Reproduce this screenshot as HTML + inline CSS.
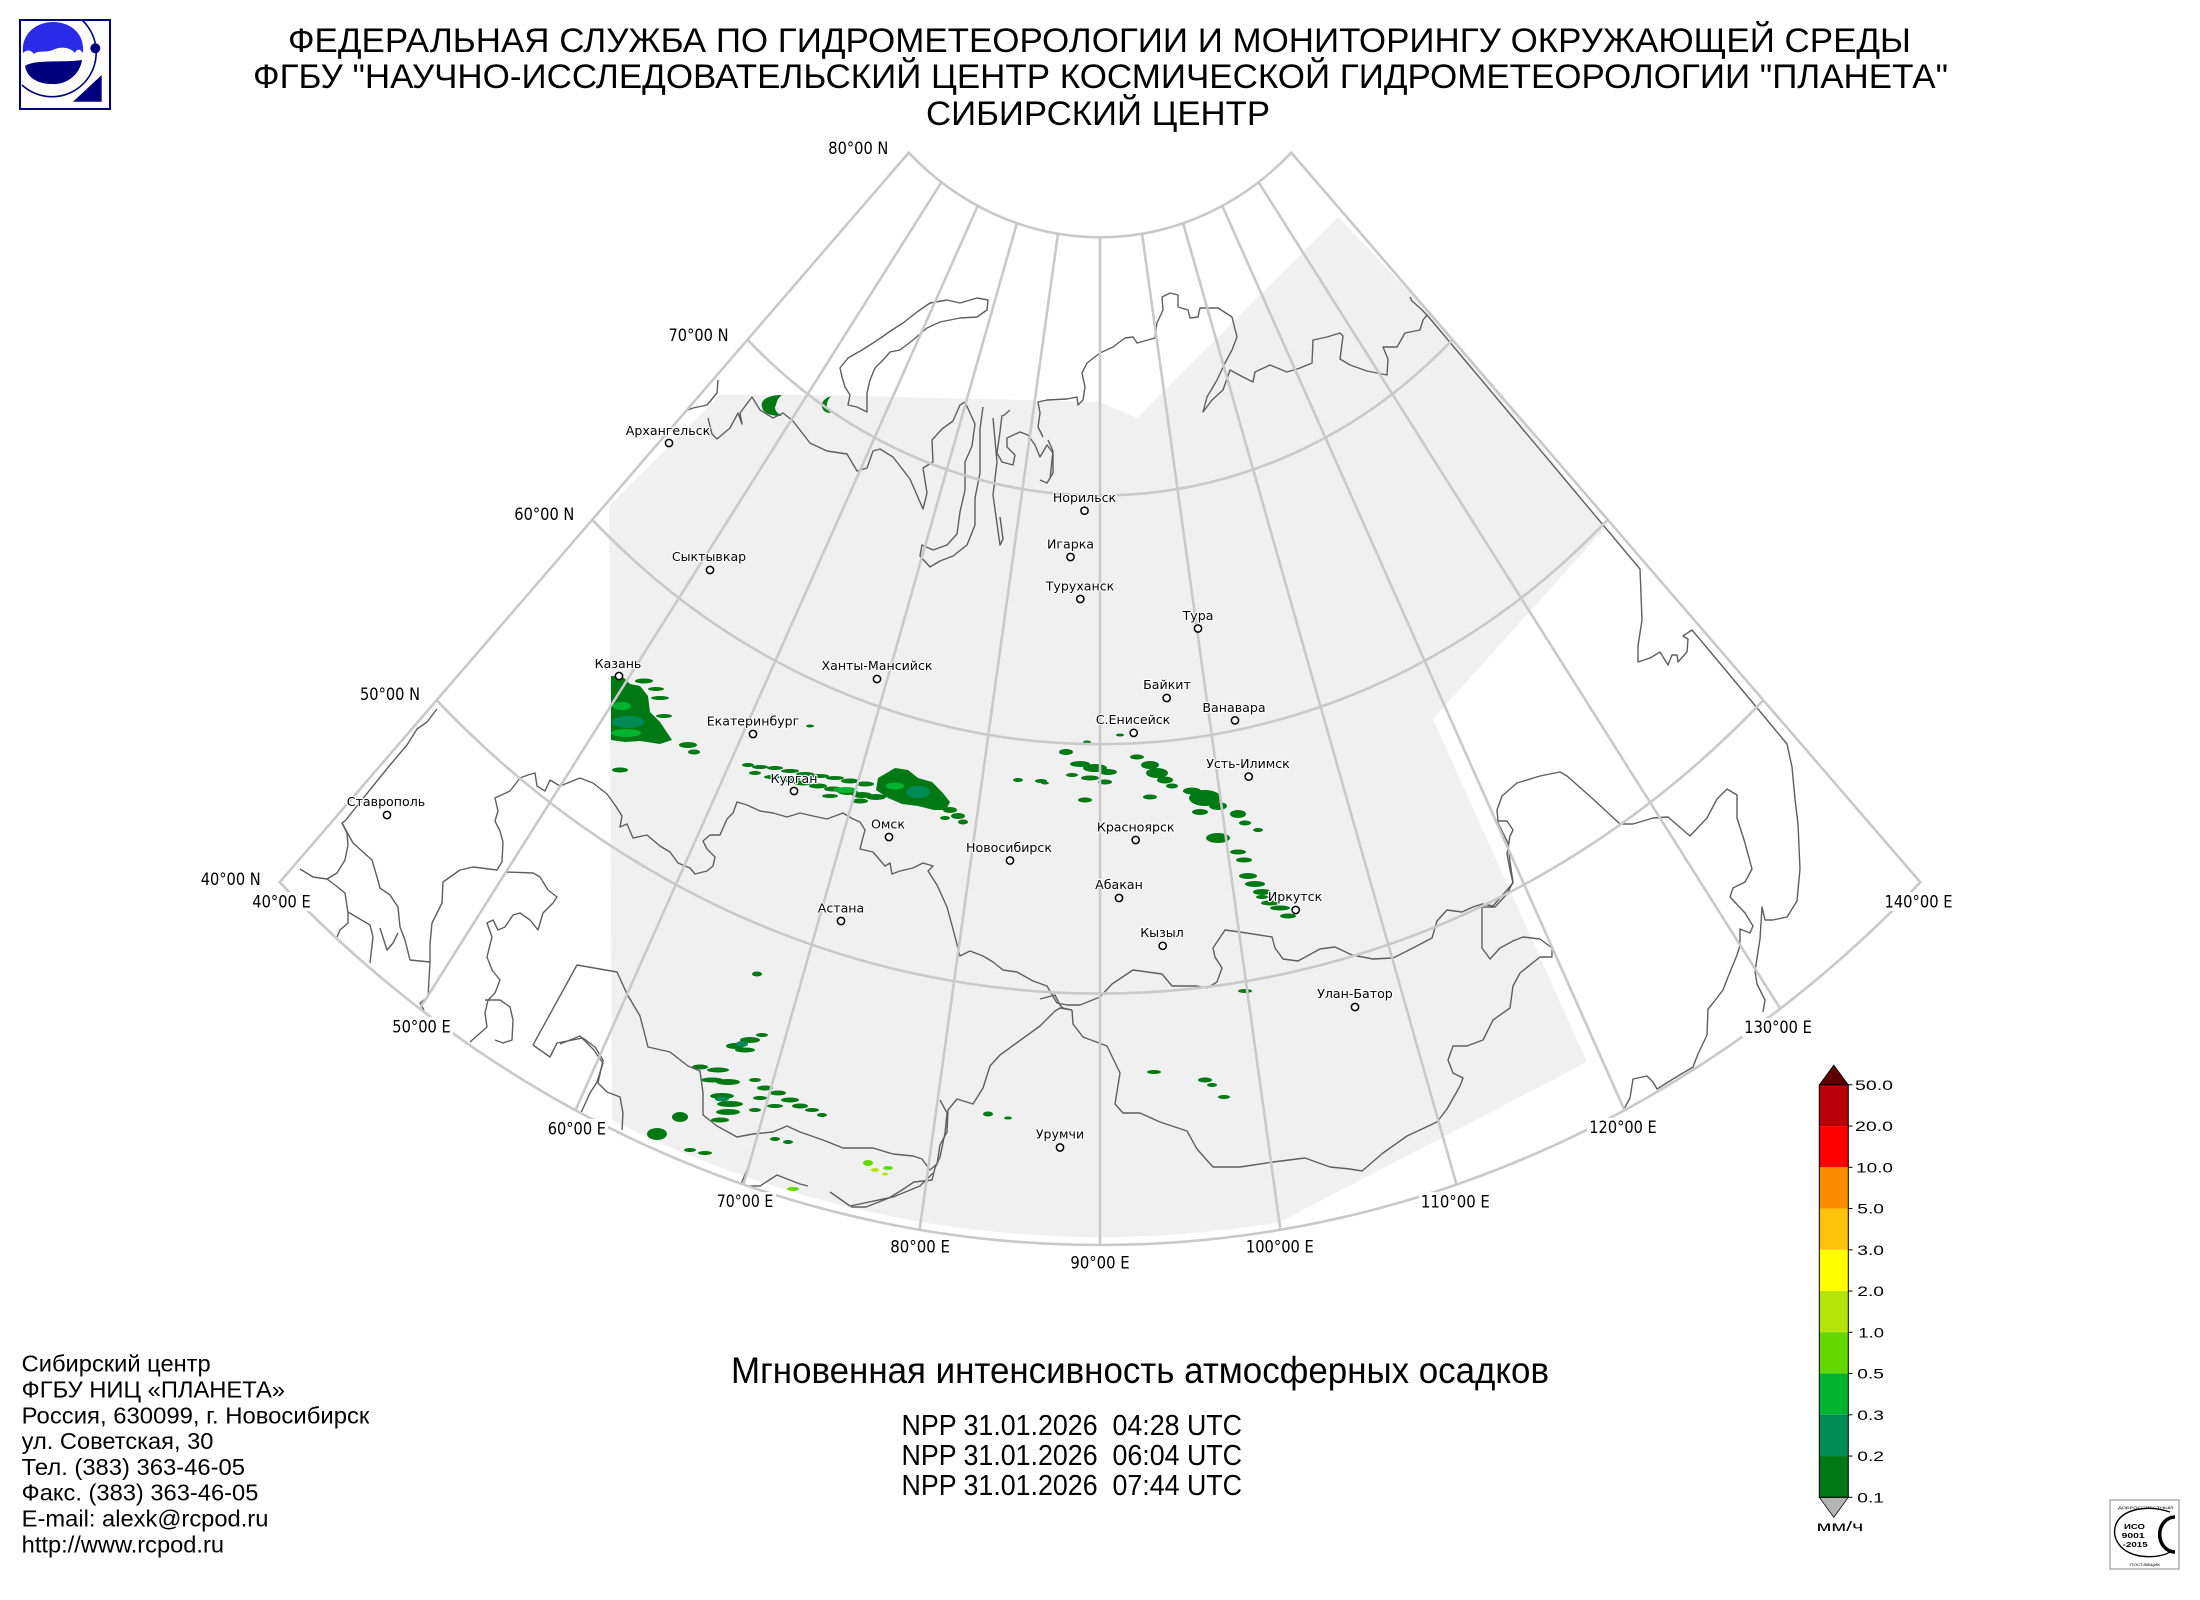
<!DOCTYPE html>
<html><head><meta charset="utf-8"><title>Мгновенная интенсивность атмосферных осадков</title>
<style>
html,body{margin:0;padding:0;background:#fff;}
svg{display:block;}
.t{font-family:"Liberation Sans Narrow","Liberation Sans",sans-serif;fill:#000;}
.a{font-family:"Liberation Sans",sans-serif;fill:#000;font-size:23px;}
.g{font-family:"DejaVu Sans","Liberation Sans",sans-serif;fill:#000;font-size:16.5px;}
.c{font-family:"DejaVu Sans","Liberation Sans",sans-serif;fill:#000;font-size:12.6px;text-anchor:middle;paint-order:stroke;stroke:#fff;stroke-width:2.2px;stroke-linejoin:round;}
.cb{font-family:"Liberation Sans",sans-serif;fill:#000;font-size:14px;}
.grid{fill:none;stroke:#c9c9c9;stroke-width:2.6;}
.coast{fill:none;stroke:#5e5e5e;stroke-width:1.4;stroke-linejoin:round;}
.m{fill:#fff;stroke:#000;stroke-width:1.5;}
</style></head>
<body>
<svg width="2200" height="1600" viewBox="0 0 2200 1600" xmlns="http://www.w3.org/2000/svg">
<defs>
<clipPath id="sector"><path d="M908.75,152.7 A277.2 306.3 0 0 0 1291.25,152.7 L1920.3,882.2 A1189 1314 0 0 1 279.7,882.2 Z"/></clipPath>
</defs>
<rect x="0" y="0" width="2200" height="1600" fill="#fff"/>

<!-- Logo -->
<g>
<rect x="20" y="20" width="90" height="89" fill="#fff" stroke="#00007f" stroke-width="2"/>
<path d="M23,53 C21,35 35,22 53,22 C72,22 85,35 83,53 C80,49 77,48 75,53 C70,47 60,46 53,50 C45,53 38,50 34,54 C31,50 27,49 23,53 Z" fill="#2a2ae8"/>
<path d="M25,66 C35,59 60,63 82,60 C80,75 66,85 52,84 C38,84 27,78 25,66 Z" fill="#00007f"/>
<path d="M82,20 A44 44 0 0 1 22,85" fill="none" stroke="#00007f" stroke-width="1.6"/>
<circle cx="95.3" cy="48.3" r="5" fill="#00007f"/>
<polygon points="73,101.7 101.7,75 101.7,101.7" fill="#00007f"/>
</g>

<!-- Titles -->
<text class="t" x="288" y="52" font-size="34" textLength="1623" lengthAdjust="spacingAndGlyphs">ФЕДЕРАЛЬНАЯ СЛУЖБА ПО ГИДРОМЕТЕОРОЛОГИИ И МОНИТОРИНГУ ОКРУЖАЮЩЕЙ СРЕДЫ</text>
<text class="t" x="253" y="88" font-size="34" textLength="1695" lengthAdjust="spacingAndGlyphs">ФГБУ "НАУЧНО-ИССЛЕДОВАТЕЛЬСКИЙ ЦЕНТР КОСМИЧЕСКОЙ ГИДРОМЕТЕОРОЛОГИИ "ПЛАНЕТА"</text>
<text class="t" x="926" y="125" font-size="34" textLength="344" lengthAdjust="spacingAndGlyphs">СИБИРСКИЙ ЦЕНТР</text>

<!-- Map: swath -->
<g clip-path="url(#sector)">
<path d="M609,506 L720,395 L820,395 L1100,402 L1137,418 L1338,217 L1470,355 L1605,528 L1433,719 L1587,1062 L1280,1222 A1181 1306 0 0 1 612,1120 Z" fill="#f0f0f0"/>

<!-- precipitation -->
<g fill="#007814">
<!-- Barents -->
<path d="M782,395 C765,395 760,402 762,407 C763,413 770,416 782,416 C775,412 774,408 776,405 C777,400 779,397 782,395 Z"/>
<path d="M831,396 C822,399 821,405 822,407 C823,411 826,413 831,413 C826,409 825,403 831,396 Z"/>
<!-- Kazan -->
<path d="M611,676 L622,676 L630,684 L640,686 L648,696 L650,712 L660,722 L672,740 L660,744 L640,741 L625,742 L611,740 Z"/>
<ellipse cx="644" cy="681" rx="9" ry="2.5"/><ellipse cx="656" cy="689" rx="8" ry="2"/>
<ellipse cx="660" cy="698" rx="9" ry="2"/><ellipse cx="664" cy="716" rx="8" ry="2"/>
<ellipse cx="688" cy="745" rx="9" ry="3"/><ellipse cx="694" cy="752" rx="6" ry="2.5"/>
<ellipse cx="620" cy="770" rx="8" ry="2.5"/><ellipse cx="810" cy="726" rx="4" ry="1.5"/>
<!-- Kurgan band -->
<ellipse cx="748" cy="765" rx="6" ry="2"/><ellipse cx="760" cy="767" rx="8" ry="2"/><ellipse cx="775" cy="768" rx="8" ry="2"/>
<ellipse cx="790" cy="771" rx="9" ry="2"/><ellipse cx="805" cy="774" rx="9" ry="2"/><ellipse cx="820" cy="776" rx="9" ry="2"/>
<ellipse cx="835" cy="778" rx="9" ry="2"/><ellipse cx="850" cy="781" rx="9" ry="2.5"/><ellipse cx="865" cy="784" rx="9" ry="2.5"/>
<ellipse cx="755" cy="773" rx="6" ry="2"/><ellipse cx="772" cy="777" rx="8" ry="2"/><ellipse cx="788" cy="780" rx="8" ry="2"/>
<ellipse cx="803" cy="783" rx="9" ry="2.5"/><ellipse cx="818" cy="786" rx="9" ry="2.5"/><ellipse cx="833" cy="789" rx="9" ry="2.5"/>
<ellipse cx="848" cy="792" rx="10" ry="3"/><ellipse cx="862" cy="795" rx="10" ry="3"/><ellipse cx="876" cy="797" rx="10" ry="3"/>
<ellipse cx="830" cy="796" rx="8" ry="2"/><ellipse cx="860" cy="801" rx="8" ry="2.5"/>
<path d="M878,778 L895,768 L908,770 L918,778 L932,782 L942,792 L950,802 L946,810 L934,810 L918,806 L902,804 L888,798 L876,790 Z"/>
<ellipse cx="950" cy="810" rx="7" ry="3"/><ellipse cx="958" cy="816" rx="7" ry="3"/><ellipse cx="963" cy="822" rx="5" ry="2.5"/><ellipse cx="945" cy="818" rx="5" ry="2"/>
<!-- Siberia -->
<ellipse cx="1018" cy="780" rx="5" ry="2"/><ellipse cx="1041" cy="781" rx="6" ry="2"/><ellipse cx="1045" cy="783" rx="4" ry="1.5"/>
<ellipse cx="1066" cy="752" rx="7" ry="3"/><ellipse cx="1087" cy="742" rx="4" ry="1.5"/><ellipse cx="1120" cy="735" rx="4" ry="1.5"/>
<ellipse cx="1080" cy="764" rx="10" ry="3"/><ellipse cx="1095" cy="768" rx="12" ry="4"/><ellipse cx="1108" cy="772" rx="9" ry="3"/>
<ellipse cx="1090" cy="778" rx="9" ry="2.5"/><ellipse cx="1105" cy="782" rx="7" ry="2.5"/><ellipse cx="1072" cy="775" rx="6" ry="2"/>
<ellipse cx="1085" cy="800" rx="7" ry="2.5"/>
<ellipse cx="1137" cy="757" rx="7" ry="2.5"/><ellipse cx="1150" cy="765" rx="9" ry="4"/><ellipse cx="1157" cy="773" rx="11" ry="5"/>
<ellipse cx="1165" cy="780" rx="8" ry="3.5"/><ellipse cx="1172" cy="786" rx="6" ry="2.5"/><ellipse cx="1150" cy="797" rx="7" ry="2.5"/>
<ellipse cx="1205" cy="798" rx="16" ry="8"/><ellipse cx="1192" cy="791" rx="9" ry="3.5"/><ellipse cx="1218" cy="806" rx="9" ry="4"/><ellipse cx="1200" cy="812" rx="8" ry="3"/>
<ellipse cx="1218" cy="838" rx="12" ry="5"/><ellipse cx="1238" cy="814" rx="8" ry="4"/><ellipse cx="1245" cy="823" rx="6" ry="2.5"/><ellipse cx="1258" cy="830" rx="5" ry="2"/>
<ellipse cx="1238" cy="852" rx="8" ry="2.5"/><ellipse cx="1244" cy="860" rx="8" ry="2.5"/>
<ellipse cx="1248" cy="876" rx="9" ry="3"/><ellipse cx="1255" cy="884" rx="10" ry="3"/><ellipse cx="1262" cy="892" rx="9" ry="3"/>
<ellipse cx="1270" cy="903" rx="9" ry="2.5"/><ellipse cx="1280" cy="908" rx="10" ry="2.5"/><ellipse cx="1288" cy="916" rx="8" ry="2.5"/><ellipse cx="1262" cy="897" rx="6" ry="2"/>
<ellipse cx="1245" cy="991" rx="7" ry="2"/><ellipse cx="1154" cy="1072" rx="7" ry="2"/>
<ellipse cx="1205" cy="1080" rx="7" ry="2.5"/><ellipse cx="1212" cy="1085" rx="5" ry="2"/><ellipse cx="1224" cy="1097" rx="6" ry="2"/>
<!-- SW cluster -->
<ellipse cx="735" cy="1046" rx="9" ry="3"/><ellipse cx="750" cy="1040" rx="10" ry="3"/><ellipse cx="745" cy="1050" rx="10" ry="2.5"/><ellipse cx="762" cy="1035" rx="6" ry="2"/><ellipse cx="757" cy="974" rx="5" ry="2.5"/>
<ellipse cx="700" cy="1067" rx="8" ry="2.5"/><ellipse cx="718" cy="1070" rx="11" ry="2.5"/><ellipse cx="712" cy="1080" rx="11" ry="2.5"/>
<ellipse cx="728" cy="1082" rx="12" ry="3"/>
<ellipse cx="722" cy="1096" rx="12" ry="3"/><ellipse cx="730" cy="1104" rx="13" ry="3"/><ellipse cx="728" cy="1112" rx="12" ry="3"/><ellipse cx="720" cy="1120" rx="9" ry="2.5"/>
<ellipse cx="755" cy="1080" rx="6" ry="2"/><ellipse cx="765" cy="1088" rx="8" ry="2.5"/><ellipse cx="778" cy="1093" rx="8" ry="2.5"/>
<ellipse cx="790" cy="1100" rx="9" ry="2.5"/><ellipse cx="800" cy="1106" rx="8" ry="2.5"/><ellipse cx="812" cy="1110" rx="7" ry="2"/>
<ellipse cx="822" cy="1115" rx="5" ry="2"/><ellipse cx="760" cy="1098" rx="7" ry="2"/><ellipse cx="775" cy="1106" rx="8" ry="2"/><ellipse cx="755" cy="1110" rx="6" ry="2"/>
<ellipse cx="680" cy="1117" rx="8" ry="5"/><ellipse cx="657" cy="1134" rx="10" ry="6"/>
<ellipse cx="690" cy="1150" rx="6" ry="2"/><ellipse cx="705" cy="1153" rx="7" ry="2"/>
<ellipse cx="775" cy="1139" rx="5" ry="2"/><ellipse cx="788" cy="1142" rx="5" ry="2"/>
<ellipse cx="988" cy="1114" rx="5" ry="2.5"/><ellipse cx="1008" cy="1118" rx="4" ry="1.5"/>
</g>
<g fill="#008a55">
<ellipse cx="628" cy="722" rx="16" ry="6"/><ellipse cx="918" cy="792" rx="12" ry="6"/><ellipse cx="790" cy="779" rx="10" ry="3"/>
<ellipse cx="742" cy="1044" rx="6" ry="3"/><ellipse cx="722" cy="1099" rx="7" ry="2.5"/>
</g>
<g fill="#00b432">
<ellipse cx="626" cy="733" rx="15" ry="4"/><ellipse cx="622" cy="706" rx="9" ry="4"/><ellipse cx="895" cy="786" rx="9" ry="3.5"/><ellipse cx="845" cy="790" rx="12" ry="3"/>
</g>
<g fill="#64d600">
<ellipse cx="868" cy="1163" rx="5" ry="3"/><ellipse cx="888" cy="1168" rx="5" ry="2"/><ellipse cx="793" cy="1189" rx="6" ry="2"/>
</g>
<g fill="#b4e40a">
<ellipse cx="875" cy="1170" rx="4" ry="2"/><ellipse cx="885" cy="1174" rx="3" ry="1.5"/>
</g>

<!-- coastlines and borders -->
<g class="coast">
<path d="M840,368 L848,358 L862,350 L873,343 L882,337 L892,330 L903,323 L917,312 L930,303 L947,300 L960,303 L977,298 L988,300 L987,310 L977,317 L960,318 L940,322 L927,328 L913,340 L900,350 L890,352 L883,360 L875,368 L870,380 L867,393 L867,412 L857,407 L848,405 L850,395 L845,387 L842,377 Z"/>
<polyline points="1040,480 1047,483 1053,473 1053,453 1047,445 1040,457 1035,445 1028,435 1020,432 1007,438 1007,447 1015,455 1013,465 1002,462 997,453 1000,432 1002,415"/>
<polyline points="1038,427 1040,413 1038,402 1047,400 1067,399 1077,397 1078,405 1083,400 1085,387 1082,373 1087,363 1100,353 1113,347 1125,338 1133,337 1137,343 1155,338 1157,323 1163,310 1162,297 1170,293 1178,295 1178,307 1188,310 1190,318 1198,317 1200,308 1218,308 1232,317 1237,337 1232,350 1225,363 1217,380 1207,397 1203,412 1212,400 1223,390 1230,370 1243,377 1253,382 1255,372 1270,365 1287,372 1300,368 1312,363 1313,340 1327,337 1340,333 1343,336 1340,359 1350,365 1367,371 1387,375 1388,359 1383,347 1397,347 1405,333 1420,330 1423,320 1427,315 1640,569 1642,620 1638,646 1638,662 1650,658 1660,652 1668,665 1672,655 1677,655 1678,662 1687,652 1688,639 1683,636 1692,630 1713,655 1753,703 1787,744 1792,767 1795,799 1798,824 1800,869 1797,901 1787,917 1773,920 1765,920 1762,907 1760,939 1755,971 1757,984 1765,1000 1763,1012"/>
<polyline points="1427,315 1420,308 1412,301 1410,297"/>
<polyline points="1043,437 1038,427"/>
<polyline points="1048,440 1053,451 1050,479"/>
<polyline points="718,380 717,393 707,405 693,408 680,413"/>
<polyline points="708,418 712,434 717,439 730,428 738,413 742,424 740,413 752,397 760,410 773,418 783,413 793,421 810,443 827,451 847,454 857,471 867,468 873,451 880,449 893,457 910,479 923,509 927,493 923,468 933,462 932,440 942,429 953,421 960,405 965,402 975,424 972,446 965,462 965,490 960,512 957,534 947,545 933,550 922,545 920,556 930,567 940,561 953,556 967,545 975,525 975,498 980,473 980,429 983,407"/>
<polyline points="993,418 997,462 993,495 1000,545 1003,539 1000,517"/>
<polyline points="1003,416 1010,410"/>
<!-- Russia-Kazakhstan-Mongolia-China -->
<polyline points="520,778 528,775 535,773 537,786 545,791 550,780 560,786 580,778 593,783 607,794 615,805 622,816 620,827 627,824 633,838 647,835 660,846 670,852 678,863 690,868 695,874 707,871 713,866 715,857 707,849 703,841 710,835 720,835 727,819 733,813 737,802 747,805 760,811 773,813 787,817 800,813 813,816 827,819 843,813 853,819 860,822 865,830 862,841 860,849 873,852 885,866 890,863 892,874 900,871 913,868 923,863 933,866 928,871 937,885 947,907 953,929 960,956 970,951 983,956 993,962 1003,970 1017,972 1033,981 1047,986 1057,1003 1067,1005 1080,1005 1100,997 1112,984 1133,970 1162,974 1172,986 1197,986 1207,988 1217,982 1222,968 1215,957 1213,948 1225,930 1240,932 1272,937 1275,948 1283,959 1298,961 1320,949 1335,947 1352,955 1373,959 1393,958 1413,948 1432,938 1437,921 1447,910 1462,912 1473,907 1482,904 1493,906 1507,890 1513,883 1510,870 1507,854 1510,836 1513,830 1507,821 1498,821 1497,810 1502,796 1517,783 1540,776 1560,772 1567,776 1593,799 1620,824 1633,824 1653,818 1668,817 1690,836 1707,818 1717,799 1727,789 1737,795 1737,818 1745,843 1752,869 1745,882 1733,888 1730,897 1745,913 1753,926 1750,933 1740,929 1740,945 1737,955 1728,977 1723,990 1713,1003 1708,1009 1707,1035 1698,1054 1693,1067 1673,1079 1657,1089 1653,1082 1647,1076 1633,1079 1630,1098 1623,1111"/>
<polyline points="1497,821 1508,843 1510,862 1513,882 1507,894 1495,907 1482,907"/>
<polyline points="1482,904 1482,948 1490,959 1500,948 1513,941 1523,937 1540,939 1552,948 1552,957 1540,957 1520,973 1513,986 1510,1008 1493,1020 1483,1040 1467,1046 1453,1046 1448,1060 1453,1073 1463,1078 1460,1086 1447,1109 1437,1122 1407,1136 1383,1153 1362,1171 1350,1169 1330,1167 1305,1158 1273,1162 1240,1167 1213,1167 1197,1149 1187,1131 1160,1122 1140,1113 1123,1113 1115,1104 1120,1073 1107,1046 1083,1037 1073,1024 1072,1010"/>
<polyline points="1040,999 1055,995 1060,1005 1063,1008 1072,1010"/>
<polyline points="1072,1010 1060,1008 1055,1011 1040,1026 1000,1055 990,1066 983,1088 973,1104 957,1099 948,1110 947,1132 940,1145 937,1164 930,1170 922,1159 913,1156 893,1154 873,1148 843,1148 823,1140 800,1132 787,1126 773,1132 753,1134 737,1137 717,1126 703,1115 703,1093 700,1071 688,1066 670,1052 648,1047 640,1016 627,994 617,972 577,965 533,1045"/>
<polyline points="940,1100 947,1113 945,1133 940,1157 935,1168 932,1180 914,1182 902,1190 889,1198 866,1207 851,1207"/>
<polyline points="560,1044 580,1036 593,1049 603,1063 597,1082 590,1093 580,1115"/>
<polyline points="747,1170 740,1186 760,1186 777,1175 800,1184 808,1186"/>
<polyline points="830,1192 850,1206 893,1197 920,1186 933,1173"/>
<polyline points="533,1045 550,1057 557,1043 583,1038 595,1047 603,1060 598,1083 607,1092 620,1097 623,1113 622,1130"/>
<!-- Caspian / Caucasus -->
<polyline points="520,778 510,791 495,798 498,811 495,821 500,831 503,842 502,862 497,870 473,867 460,870 443,882 442,903 437,913 432,923 430,944 430,962 428,997 420,1003 424,1010"/>
<polyline points="505,872 533,873 540,877 548,890 557,897 553,903 543,913 538,930 530,920 520,913 513,915 505,927 498,930 493,920 487,923 492,937 487,957 492,970 500,980 495,993 488,1000 485,1013 487,1027 470,1042"/>
<polyline points="485,1000 500,1000 510,1007 513,1020 512,1040 503,1043 495,1040"/>
<polyline points="300,869 313,877 327,879 337,873 345,860 348,845 347,833 342,823 345,821"/>
<polyline points="437,709 427,722 417,729 407,745 390,765 373,786 357,806 345,821"/>
<polyline points="342,823 353,843 363,852 372,860 377,877 380,888 390,895 398,907 400,927 405,940 410,960 430,962"/>
<polyline points="327,879 335,885 345,893 348,913 348,923 340,930 337,937"/>
<polyline points="348,912 370,925 373,937 370,963"/>
<polyline points="380,928 387,950 393,943 398,933"/>
</g>
</g>

<!-- grid -->
<g class="grid">
<path d="M908.75,152.7 A277.2 306.3 0 0 0 1291.25,152.7 L1920.3,882.2 A1189 1314 0 0 1 279.7,882.2 Z"/>
<path d="M747.5,339.6 A510.9 564.5 0 0 0 1452.5,339.6"/>
<path d="M592.3,519.7 A735.9 813.2 0 0 0 1607.7,519.7"/>
<path d="M436.6,700.2 A961.6 1062.6 0 0 0 1763.4,700.2"/>
<line x1="941.4" y1="182.2" x2="419.7" y2="1008.7"/>
<line x1="977.7" y1="205.9" x2="575.5" y2="1110.2"/>
<line x1="1016.9" y1="223.2" x2="743.5" y2="1184.5"/>
<line x1="1057.95" y1="233.8" x2="919.6" y2="1229.8"/>
<line x1="1100" y1="237.3" x2="1100" y2="1245"/>
<line x1="1142.05" y1="233.8" x2="1280.4" y2="1229.8"/>
<line x1="1183.1" y1="223.2" x2="1456.5" y2="1184.5"/>
<line x1="1222.3" y1="205.9" x2="1624.5" y2="1110.2"/>
<line x1="1258.6" y1="182.2" x2="1780.3" y2="1008.7"/>
</g>

<!-- cities -->
<g>
<circle class="m" cx="669" cy="443" r="3.6"/><text class="c" x="668" y="435">Архангельск</text>
<circle class="m" cx="710" cy="570" r="3.6"/><text class="c" x="709" y="561">Сыктывкар</text>
<circle class="m" cx="619" cy="676" r="3.6"/><text class="c" x="618" y="668">Казань</text>
<circle class="m" cx="877" cy="679" r="3.6"/><text class="c" x="877" y="670">Ханты-Мансийск</text>
<circle class="m" cx="753" cy="734" r="3.6"/><text class="c" x="753" y="725.5">Екатеринбург</text>
<circle class="m" cx="794" cy="791" r="3.6"/><text class="c" x="794" y="783">Курган</text>
<circle class="m" cx="889" cy="837" r="3.6"/><text class="c" x="888" y="828.5">Омск</text>
<circle class="m" cx="1010" cy="860.5" r="3.6"/><text class="c" x="1009" y="852">Новосибирск</text>
<circle class="m" cx="841" cy="921" r="3.6"/><text class="c" x="841" y="912.5">Астана</text>
<circle class="m" cx="1060" cy="1147.5" r="3.6"/><text class="c" x="1060" y="1138.5">Урумчи</text>
<circle class="m" cx="387" cy="815" r="3.6"/><text class="c" x="386" y="806">Ставрополь</text>
<circle class="m" cx="1084.5" cy="510.7" r="3.6"/><text class="c" x="1084.5" y="502">Норильск</text>
<circle class="m" cx="1070.5" cy="557" r="3.6"/><text class="c" x="1070.5" y="548.5">Игарка</text>
<circle class="m" cx="1080.3" cy="599" r="3.6"/><text class="c" x="1080" y="590.5">Туруханск</text>
<circle class="m" cx="1198" cy="628.5" r="3.6"/><text class="c" x="1198" y="620">Тура</text>
<circle class="m" cx="1166.7" cy="698" r="3.6"/><text class="c" x="1167" y="689">Байкит</text>
<circle class="m" cx="1235" cy="720.4" r="3.6"/><text class="c" x="1234" y="712">Ванавара</text>
<circle class="m" cx="1133.7" cy="732.9" r="3.6"/><text class="c" x="1133" y="724">С.Енисейск</text>
<circle class="m" cx="1248.7" cy="776.6" r="3.6"/><text class="c" x="1248" y="768">Усть-Илимск</text>
<circle class="m" cx="1135.7" cy="840" r="3.6"/><text class="c" x="1135.7" y="831.5">Красноярск</text>
<circle class="m" cx="1119" cy="898" r="3.6"/><text class="c" x="1119" y="889">Абакан</text>
<circle class="m" cx="1162.7" cy="945.8" r="3.6"/><text class="c" x="1162" y="937">Кызыл</text>
<circle class="m" cx="1295.7" cy="910" r="3.6"/><text class="c" x="1295" y="901">Иркутск</text>
<circle class="m" cx="1355" cy="1007" r="3.6"/><text class="c" x="1355" y="998">Улан-Батор</text>
</g>

<!-- grid labels -->
<g>
<text class="g" x="828.3" y="154" textLength="60" lengthAdjust="spacingAndGlyphs">80°00 N</text>
<text class="g" x="668.5" y="341" textLength="60" lengthAdjust="spacingAndGlyphs">70°00 N</text>
<text class="g" x="514.3" y="520" textLength="60" lengthAdjust="spacingAndGlyphs">60°00 N</text>
<text class="g" x="360" y="700" textLength="60" lengthAdjust="spacingAndGlyphs">50°00 N</text>
<text class="g" x="200.7" y="885" textLength="60" lengthAdjust="spacingAndGlyphs">40°00 N</text>
</g>
<g fill="#fff">
<rect x="250" y="892" width="63" height="19"/>
<rect x="390" y="1017" width="63" height="19"/>
<rect x="545" y="1119" width="63" height="19"/>
<rect x="714" y="1192" width="62" height="19"/>
<rect x="889" y="1237" width="63" height="19"/>
<rect x="1068" y="1253" width="64" height="19"/>
<rect x="1244" y="1237" width="72" height="19"/>
<rect x="1419" y="1192" width="73" height="19"/>
<rect x="1587" y="1118" width="72" height="19"/>
<rect x="1742" y="1018" width="72" height="19"/>
<rect x="1882" y="892" width="73" height="19"/>
</g>
<g>
<text class="g" x="252.3" y="907.7" textLength="58.4" lengthAdjust="spacingAndGlyphs">40°00 E</text>
<text class="g" x="392.3" y="1032.7" textLength="58.4" lengthAdjust="spacingAndGlyphs">50°00 E</text>
<text class="g" x="547.7" y="1134.3" textLength="58.3" lengthAdjust="spacingAndGlyphs">60°00 E</text>
<text class="g" x="716.7" y="1207" textLength="56.6" lengthAdjust="spacingAndGlyphs">70°00 E</text>
<text class="g" x="890.3" y="1252.7" textLength="59.7" lengthAdjust="spacingAndGlyphs">80°00 E</text>
<text class="g" x="1070.4" y="1268.3" textLength="59.2" lengthAdjust="spacingAndGlyphs">90°00 E</text>
<text class="g" x="1245.9" y="1252.7" textLength="67.9" lengthAdjust="spacingAndGlyphs">100°00 E</text>
<text class="g" x="1420.9" y="1207.7" textLength="68.9" lengthAdjust="spacingAndGlyphs">110°00 E</text>
<text class="g" x="1589.3" y="1133" textLength="67.4" lengthAdjust="spacingAndGlyphs">120°00 E</text>
<text class="g" x="1744.3" y="1033" textLength="67.5" lengthAdjust="spacingAndGlyphs">130°00 E</text>
<text class="g" x="1884.5" y="907.7" textLength="68" lengthAdjust="spacingAndGlyphs">140°00 E</text>
</g>

<!-- bottom titles -->
<text class="t" x="731" y="1383" font-size="37" textLength="818" lengthAdjust="spacingAndGlyphs">Мгновенная интенсивность атмосферных осадков</text>
<text class="t" x="901.5" y="1435" font-size="29" textLength="340.5" lengthAdjust="spacingAndGlyphs" style="white-space:pre">NPP 31.01.2026  04:28 UTC</text>
<text class="t" x="901.5" y="1465" font-size="29" textLength="340.5" lengthAdjust="spacingAndGlyphs" style="white-space:pre">NPP 31.01.2026  06:04 UTC</text>
<text class="t" x="901.5" y="1495" font-size="29" textLength="340.5" lengthAdjust="spacingAndGlyphs" style="white-space:pre">NPP 31.01.2026  07:44 UTC</text>

<!-- address -->
<text class="a" x="21.7" y="1371.7" textLength="189" lengthAdjust="spacingAndGlyphs">Сибирский центр</text>
<text class="a" x="21.7" y="1397.5" textLength="263.3" lengthAdjust="spacingAndGlyphs">ФГБУ НИЦ «ПЛАНЕТА»</text>
<text class="a" x="21.7" y="1423.3" textLength="347.7" lengthAdjust="spacingAndGlyphs">Россия, 630099, г. Новосибирск</text>
<text class="a" x="21.7" y="1449.1" textLength="191.7" lengthAdjust="spacingAndGlyphs">ул. Советская, 30</text>
<text class="a" x="21.7" y="1474.9" textLength="223.3" lengthAdjust="spacingAndGlyphs">Тел. (383) 363-46-05</text>
<text class="a" x="21.7" y="1500.7" textLength="236.7" lengthAdjust="spacingAndGlyphs">Факс. (383) 363-46-05</text>
<text class="a" x="21.7" y="1526.5" textLength="246.7" lengthAdjust="spacingAndGlyphs">E-mail: alexk@rcpod.ru</text>
<text class="a" x="21.7" y="1552.3" textLength="202.3" lengthAdjust="spacingAndGlyphs">http://www.rcpod.ru</text>

<!-- colorbar -->
<g>
<polygon points="1819.3,1084.8 1848.3,1084.8 1833.8,1065.2" fill="#5c0000" stroke="#000" stroke-width="0.8"/>
<rect x="1819.3" y="1084.8" width="29" height="41.25" fill="#b80008"/>
<rect x="1819.3" y="1126.05" width="29" height="41.25" fill="#ff0000"/>
<rect x="1819.3" y="1167.3" width="29" height="41.25" fill="#ff8c00"/>
<rect x="1819.3" y="1208.55" width="29" height="41.25" fill="#fdc20c"/>
<rect x="1819.3" y="1249.8" width="29" height="41.25" fill="#ffff00"/>
<rect x="1819.3" y="1291.05" width="29" height="41.25" fill="#b4e40a"/>
<rect x="1819.3" y="1332.3" width="29" height="41.25" fill="#64d600"/>
<rect x="1819.3" y="1373.55" width="29" height="41.25" fill="#00b432"/>
<rect x="1819.3" y="1414.8" width="29" height="41.25" fill="#008a55"/>
<rect x="1819.3" y="1456.05" width="29" height="41.25" fill="#007814"/>
<polygon points="1819.3,1497.3 1848.3,1497.3 1833.8,1517.3" fill="#b4b4b4" stroke="#000" stroke-width="0.8"/>
<rect x="1819.3" y="1084.8" width="29" height="412.5" fill="none" stroke="#000" stroke-width="1"/>
<g stroke="#000" stroke-width="1">
<line x1="1848.3" y1="1084.8" x2="1852.5" y2="1084.8"/><line x1="1848.3" y1="1126.05" x2="1852.5" y2="1126.05"/>
<line x1="1848.3" y1="1167.3" x2="1852.5" y2="1167.3"/><line x1="1848.3" y1="1208.55" x2="1852.5" y2="1208.55"/>
<line x1="1848.3" y1="1249.8" x2="1852.5" y2="1249.8"/><line x1="1848.3" y1="1291.05" x2="1852.5" y2="1291.05"/>
<line x1="1848.3" y1="1332.3" x2="1852.5" y2="1332.3"/><line x1="1848.3" y1="1373.55" x2="1852.5" y2="1373.55"/>
<line x1="1848.3" y1="1414.8" x2="1852.5" y2="1414.8"/><line x1="1848.3" y1="1456.05" x2="1852.5" y2="1456.05"/>
<line x1="1848.3" y1="1497.3" x2="1852.5" y2="1497.3"/>
</g>
<text class="cb" x="1855" y="1089.8" textLength="38" lengthAdjust="spacingAndGlyphs">50.0</text>
<text class="cb" x="1855" y="1131" textLength="38" lengthAdjust="spacingAndGlyphs">20.0</text>
<text class="cb" x="1856" y="1172.3" textLength="37" lengthAdjust="spacingAndGlyphs">10.0</text>
<text class="cb" x="1857.3" y="1213.5" textLength="26.7" lengthAdjust="spacingAndGlyphs">5.0</text>
<text class="cb" x="1857.3" y="1254.8" textLength="26.7" lengthAdjust="spacingAndGlyphs">3.0</text>
<text class="cb" x="1857.3" y="1296" textLength="26.7" lengthAdjust="spacingAndGlyphs">2.0</text>
<text class="cb" x="1858.3" y="1337.3" textLength="25.7" lengthAdjust="spacingAndGlyphs">1.0</text>
<text class="cb" x="1857.3" y="1378.5" textLength="26.7" lengthAdjust="spacingAndGlyphs">0.5</text>
<text class="cb" x="1857.3" y="1419.8" textLength="26.7" lengthAdjust="spacingAndGlyphs">0.3</text>
<text class="cb" x="1857.3" y="1461" textLength="26.7" lengthAdjust="spacingAndGlyphs">0.2</text>
<text class="cb" x="1857.3" y="1502.3" textLength="26.7" lengthAdjust="spacingAndGlyphs">0.1</text>
<text class="cb" x="1816.7" y="1531" textLength="46.6" lengthAdjust="spacingAndGlyphs">мм/ч</text>
</g>

<!-- ISO logo -->
<g>
<rect x="2110" y="1500" width="69" height="69" fill="#fff" stroke="#888" stroke-width="1"/>
<path d="M2170,1512 C2150,1505 2125,1508 2117,1522 C2110,1535 2118,1552 2140,1556 C2155,1558 2168,1555 2172,1550" fill="none" stroke="#000" stroke-width="1.4"/>
<path d="M2175,1517 A14 16 0 1 0 2175,1552" fill="none" stroke="#000" stroke-width="3.5"/>
<text x="2124" y="1529" font-family="Liberation Sans,sans-serif" font-size="7.5" font-weight="bold" textLength="21" lengthAdjust="spacingAndGlyphs">ИСО</text>
<text x="2121.7" y="1538" font-family="Liberation Sans,sans-serif" font-size="7.5" font-weight="bold" textLength="23" lengthAdjust="spacingAndGlyphs">9001</text>
<text x="2122.7" y="1547" font-family="Liberation Sans,sans-serif" font-size="7.5" font-weight="bold" textLength="25" lengthAdjust="spacingAndGlyphs">-2015</text>
<text x="2118" y="1509" font-family="Liberation Sans,sans-serif" font-size="4" textLength="55" lengthAdjust="spacingAndGlyphs">ДОБРОСОВЕСТНЫЙ</text>
<text x="2130" y="1566" font-family="Liberation Sans,sans-serif" font-size="4" textLength="30" lengthAdjust="spacingAndGlyphs">ПОСТАВЩИК</text>
</g>
</svg>
</body></html>
